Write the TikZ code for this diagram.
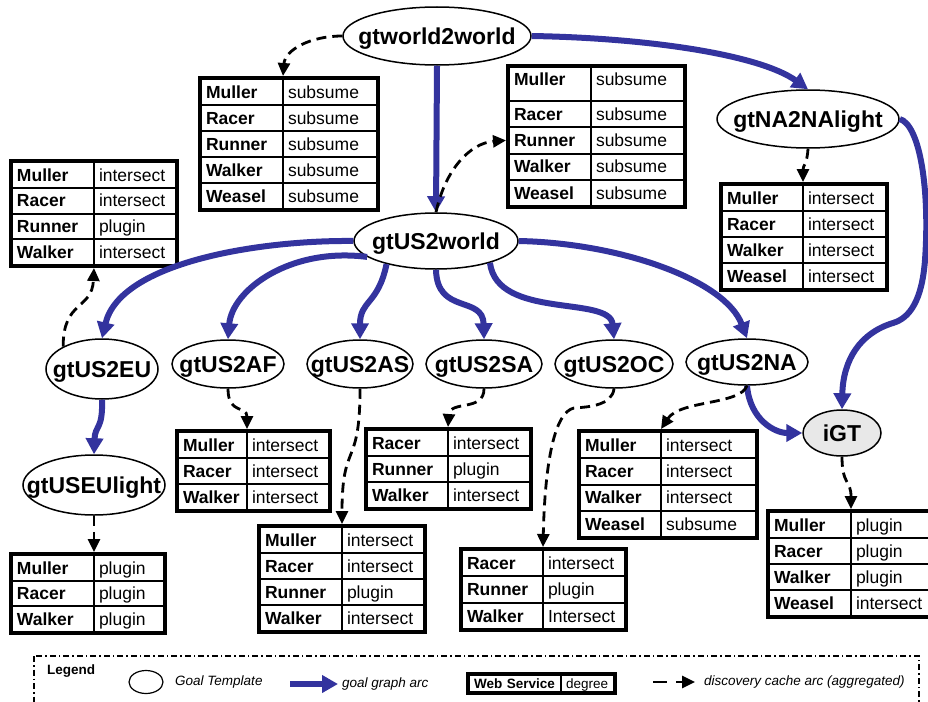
\documentclass[tikz,border=0pt]{standalone}
\usepackage{fontspec}
\setmainfont{Liberation Sans}
\usetikzlibrary{matrix,shapes.geometric,arrows.meta}
\definecolor{arcblue}{RGB}{51,51,158}
\definecolor{igtgray}{RGB}{232,232,232}
\newcommand\tabf{\fontsize{17.5}{19}\selectfont}
\newcommand\gtf{\fontsize{23}{25}\selectfont\bfseries}
\newcommand\legf{\fontsize{13.5}{15}\selectfont}
\newcommand\zb[1]{\makebox[0pt]{#1}}
\tikzset{
  gtnode/.style n args={2}{ellipse, draw, line width=1.5pt, inner sep=0pt,
    minimum width=#1, minimum height=#2, font=\gtf, text height=16.5pt, text depth=0pt},
  wstab/.style={matrix of nodes, draw, line width=4pt, inner sep=0pt,
    column sep=-2pt, row sep=-2pt, anchor=center,
    nodes={draw, line width=2pt, outer sep=0pt, inner xsep=5pt, inner ysep=0pt,
      anchor=center, align=left, font=\tabf, text height=12.5pt, text depth=0pt}},
  tabdims/.style n args={3}{column 1/.style={nodes={text width=#1, font=\tabf\bfseries}},
    column 2/.style={nodes={text width=#2}}, nodes={minimum height=#3}},
  goalarc/.style={draw=arcblue, line width=6pt, -{Triangle[length=16pt,width=17pt]}},
  cachearc/.style={draw=black, line width=2.8pt, dash pattern=on 10pt off 6pt,
    -{Triangle[length=13pt,width=12pt]}},
  legframe/.style={line width=1.5pt, dash pattern=on 6pt off 3pt on 1.5pt off 3pt},
  legtext/.style={font=\legf\itshape, anchor=west, inner sep=0pt}
}
\begin{document}
\begin{tikzpicture}[x=1pt,y=-1pt]
\useasboundingbox (0,0) rectangle (928,701);

% goal templates
\node (w2w)  [gtnode={188pt}{58pt}] at (437,36)  {\zb{gtworld2world}};
\node (us2w) [gtnode={164pt}{56pt}] at (436,241) {\zb{gtUS2world}};
\node (na)   [gtnode={182pt}{58pt}] at (808,119) {\zb{gtNA2NAlight}};
\node (eu)   [gtnode={112pt}{60pt}] at (102,369) {\zb{gtUS2EU}};
\node (af)   [gtnode={112pt}{48pt}] at (228,364) {\zb{gtUS2AF}};
\node (as)   [gtnode={106pt}{48pt}] at (360,364) {\zb{gtUS2AS}};
\node (sa)   [gtnode={116pt}{48pt}] at (484,364) {\zb{gtUS2SA}};
\node (oc)   [gtnode={118pt}{48pt}] at (614,364) {\zb{gtUS2OC}};
\node (na2)  [gtnode={122pt}{46pt}] at (747,362) {\zb{gtUS2NA}};
\node (igt)  [gtnode={78pt}{46pt}, fill=igtgray] at (842,433) {\zb{iGT}};
\node (eul)  [gtnode={142pt}{60pt}] at (94,485) {\zb{gtUSEUlight}};

% web service tables
\matrix (t1) [wstab, tabdims={72pt}{84pt}{26pt}] at (289,144) {
  Muller & subsume \\ Racer & subsume \\ Runner & subsume \\ Walker & subsume \\ Weasel & subsume \\};
\matrix (t2) [wstab, tabdims={72pt}{83pt}{26.25pt},
  row 1/.style={nodes={minimum height=34pt, text depth=10pt}}] at (596.5,136.5) {
  Muller & subsume \\ Racer & subsume \\ Runner & subsume \\ Walker & subsume \\ Weasel & subsume \\};
\matrix (t3) [wstab, tabdims={72pt}{72pt}{25.75pt}] at (94,213.5) {
  Muller & intersect \\ Racer & intersect \\ Runner & plugin \\ Walker & intersect \\};
\matrix (t4) [wstab, tabdims={71pt}{73pt}{26pt}] at (804,237) {
  Muller & intersect \\ Racer & intersect \\ Walker & intersect \\ Weasel & intersect \\};
\matrix (t5) [wstab, tabdims={59pt}{72pt}{26pt}] at (253.5,471) {
  Muller & intersect \\ Racer & intersect \\ Walker & intersect \\};
\matrix (t6) [wstab, tabdims={72pt}{72pt}{26pt}] at (342,579) {
  Muller & intersect \\ Racer & intersect \\ Runner & plugin \\ Walker & intersect \\};
\matrix (t7) [wstab, tabdims={71pt}{72pt}{26pt}] at (448.5,469) {
  Racer & intersect \\ Runner & plugin \\ Walker & intersect \\};
\matrix (t8) [wstab, tabdims={71pt}{72pt}{26.33pt}] at (543.5,589.5) {
  Racer & intersect \\ Runner & plugin \\ Walker & Intersect \\};
\matrix (t9) [wstab, tabdims={71pt}{85pt}{26.25pt}] at (668,484.5) {
  Muller & intersect \\ Racer & intersect \\ Walker & intersect \\ Weasel & subsume \\};
\matrix (t10) [wstab, tabdims={72pt}{72pt}{26pt}] at (851,564) {
  Muller & plugin \\ Racer & plugin \\ Walker & plugin \\ Weasel & intersect \\};
\matrix (t11) [wstab, tabdims={72pt}{60pt}{25.67pt}] at (88,593.5) {
  Muller & plugin \\ Racer & plugin \\ Walker & plugin \\};

% goal graph arcs
\draw[goalarc] (w2w.south) -- (us2w.north);
\draw[goalarc] (w2w.east) .. controls (650,38) and (760,55) .. (na.north);
\draw[goalarc] (na.east) .. controls (920,125) and (930,190) .. (925,260)
  .. controls (922,300) and (910,318) .. (893,323)
  .. controls (860,333) and (843,360) .. (igt.north);
\draw[goalarc] (us2w.west) .. controls (260,240) and (120,262) .. (eu.north);
\draw[goalarc] (us2w.193) .. controls (290,247) and (232,290) .. (af.north);
\draw[goalarc] (us2w.205) .. controls (378,305) and (360,300) .. (as.north);
\draw[goalarc] (us2w.south) .. controls (437,315) and (483,295) .. (sa.north);
\draw[goalarc] (us2w.338) .. controls (497,320) and (610,295) .. (oc.north);
\draw[goalarc] (us2w.east) .. controls (620,243) and (725,280) .. (na2.north);
\draw[goalarc] (eu.south) .. controls (103,430) and (95,425) .. (eul.north);
\draw[goalarc] (na2.south) .. controls (750,420) and (775,433) .. (igt.west);

% discovery cache arcs
\draw[cachearc] (w2w.west) .. controls (310,36) and (285,50) .. (t1.north -| t1-1-2.west);
\draw[cachearc] (us2w.north) .. controls (445,170) and (470,143) .. (t2.west |- t2-3-1.west);
\draw[cachearc] (na.south) .. controls (807,165) and (803,165) .. (t4.north -| t4-1-2.west);
\draw[cachearc] (eu.150) .. controls (63,300) and (92,310) .. (t3.south -| t3-4-2.west);
\draw[cachearc] (af.south) .. controls (228,415) and (247,405) .. (t5.north -| t5-1-2.west);
\draw[cachearc] (as.south) .. controls (360,470) and (342,440) .. (t6.north -| t6-1-2.west);
\draw[cachearc] (sa.south) .. controls (484,412) and (450,400) .. (t7.north -| t7-1-2.west);
\draw[cachearc] (oc.south) .. controls (612,405) and (590,407) .. (574,408)
  .. controls (555,412) and (545,460) .. (t8.north -| t8-1-2.west);
\draw[cachearc] (na2.south) .. controls (740,405) and (680,400) .. (t9.north -| t9-1-2.west);
\draw[cachearc] (igt.south) .. controls (842,485) and (851,480) .. (t10.north -| t10-1-2.west);
\draw[cachearc] (eul.south) -- (t11.north -| t11-1-2.west);

% legend
\coordinate (lf1) at (34,656);
\coordinate (lf2) at (919,720);
\draw[legframe] (lf1) rectangle (lf2);
\node (legtitle) [font=\legf\bfseries, anchor=west, inner sep=0pt] at (47,671) {Legend};
\node (legell) [ellipse, draw, line width=1.2pt, minimum width=34pt, minimum height=23pt, inner sep=0pt] at (146,682) {};
\node (legellt) [legtext] at (175,682) {Goal Template};
\coordinate (lga) at (290,684);
\coordinate (lgb) at (338,684);
\draw[goalarc] (lga) -- (lgb);
\node (leggat) [legtext] at (342,684) {goal graph arc};
\matrix (legtab) [wstab, tabdims={82pt}{43pt}{17pt}] at (541.5,683.5) {
  |[font=\legf\bfseries, text height=10pt]| Web Service & |[font=\legf, text height=10pt]| degree \\};
\coordinate (lca) at (653,682);
\coordinate (lcb) at (695,682);
\draw[cachearc, dash pattern=on 14pt off 9pt] (lca) -- (lcb);
\node (legcat) [legtext] at (704,682) {discovery cache arc (aggregated)};
\end{tikzpicture}
\end{document}
